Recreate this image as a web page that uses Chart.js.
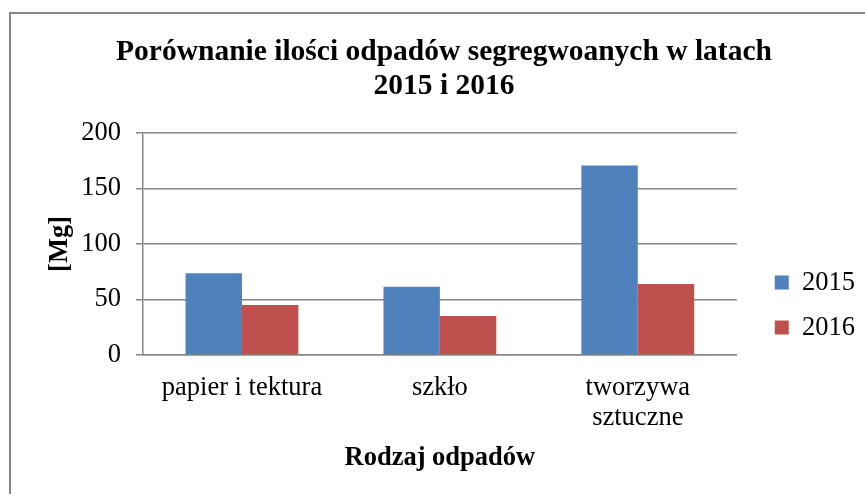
<!DOCTYPE html>
<html>
<head>
<meta charset="utf-8">
<script src="https://cdn.jsdelivr.net/npm/chart.js@4/dist/chart.umd.min.js"></script>
<style>
  html, body { margin: 0; padding: 0; background: #fff; overflow: hidden; }
  #frame { position: absolute; left: 9px; top: 12px; width: 900px; height: 520px; border: 2px solid #868686; box-sizing: border-box; }
  #wrap { position: absolute; left: 11px; top: 14px; width: 866px; height: 480px; }
</style>
</head>
<body>
<div id="frame"></div>
<div id="wrap"><canvas id="chart"></canvas></div>
<script>
// Porównanie ilości odpadów — Chart.js
var categories = ['papier i tektura', 'szkło', ['tworzywa', 'sztuczne']];
var seriesNames = ['2015', '2016'];
var values2015 = [73.5, 61.5, 170.5];
var values2016 = [45, 35, 64];
var yTicks = [0, 50, 100, 150, 200];

var BLUE = '#4F81BD';
var RED = '#C0504D';
var GRID = '#868686';
var SERIF = '"Liberation Serif", "Times New Roman", serif';

Chart.defaults.font.family = SERIF;
Chart.defaults.color = '#000';

var ctx = document.getElementById('chart').getContext('2d');
new Chart(ctx, {
  type: 'bar',
  data: {
    labels: categories,
    datasets: [
      { label: seriesNames[0], data: values2015, backgroundColor: BLUE },
      { label: seriesNames[1], data: values2016, backgroundColor: RED }
    ]
  },
  options: {
    responsive: true,
    maintainAspectRatio: false,
    animation: false,
    layout: { padding: { left: 12, right: 12, top: 0, bottom: 20 } },
    datasets: { bar: { categoryPercentage: 0.57, barPercentage: 1.0 } },
    plugins: {
      title: {
        display: true,
        text: ['Porównanie ilości odpadów segregwoanych w latach', '2015 i 2016'],
        font: { size: 29.5, weight: 'bold', lineHeight: 1.15 },
        padding: { top: 21, bottom: 30 }
      },
      legend: {
        position: 'right',
        align: 'center',
        // blank title only pushes the items down next to the lower half of the plot
        title: { display: true, text: ' ', font: { size: 1 }, padding: { top: 0, bottom: 121 } },
        labels: {
          boxWidth: 14,
          boxHeight: 14,
          padding: 18.5,
          font: { size: 26.5 }
        }
      },
      tooltip: { enabled: false }
    },
    scales: {
      x: {
        grid: { display: false, drawTicks: false, tickLength: 0 },
        border: { display: true, color: GRID, width: 1.5 },
        ticks: { font: { size: 26.5, lineHeight: 1.13 }, padding: 18 },
        title: { display: true, text: 'Rodzaj odpadów', font: { size: 26.5, weight: 'bold' }, padding: { top: 0, bottom: 0 } },
        afterFit: function(scale) { scale.height = 119; }
      },
      y: {
        min: 0,
        max: 200,
        afterBuildTicks: function(axis) {
          axis.ticks = yTicks.map(function(v) { return { value: v }; });
        },
        grid: { color: GRID, lineWidth: 1.5, tickLength: 7 },
        border: { display: true, color: GRID, width: 1.5 },
        ticks: { font: { size: 26.5 }, padding: 15 },
        title: { display: true, text: '[Mg]', font: { size: 26.5, weight: 'bold' }, padding: { top: 21, bottom: 5 } },
        afterFit: function(scale) { scale.width = 120; }
      },
      // empty right-hand axis: keeps the gap between the plot and the legend
      gap: {
        type: 'linear',
        position: 'right',
        display: true,
        grid: { display: false },
        border: { display: false },
        ticks: { display: false },
        afterFit: function(scale) { scale.width = 19.5; }
      }
    }
  }
});
</script>
</body>
</html>
